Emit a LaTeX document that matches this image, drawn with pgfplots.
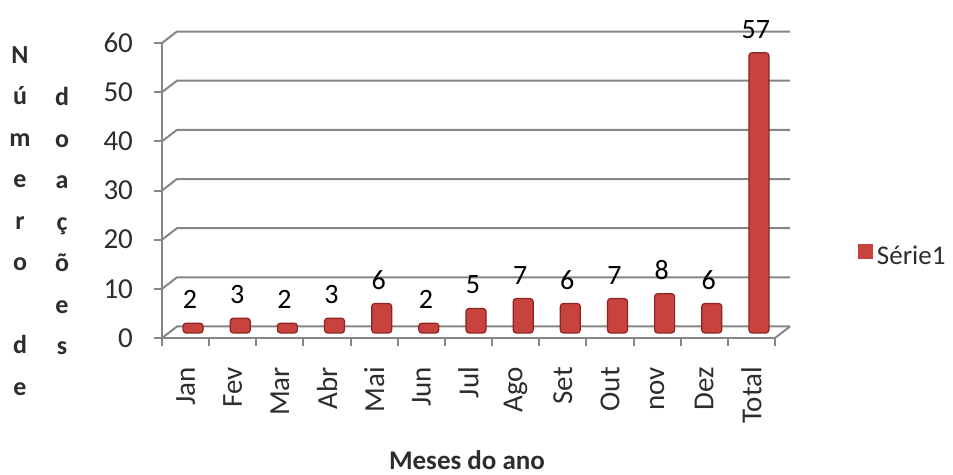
\documentclass[border=0pt]{standalone}
\usepackage{pgfplots}
\pgfplotsset{compat=1.18}
\usepackage{fontspec}
\setmainfont{Carlito}
\definecolor{gridc}{RGB}{134,134,134}
\definecolor{barfill}{RGB}{200,66,62}
\definecolor{baredge}{RGB}{140,36,34}
\definecolor{txt}{RGB}{45,45,45}
\begin{document}
\begin{tikzpicture}
\path[use as bounding box] (0,0) rectangle (476.5pt,-237.5pt);
\begin{axis}[
  at={(81pt,-169pt)}, anchor=south west,
  scale only axis, width=306.5pt, height=147.5pt,
  xmin=-0.5, xmax=12.5, ymin=0, ymax=60,
  axis x line*=bottom, axis y line*=left,
  axis line style={gridc, line width=1pt},
  ytick={0,10,...,60},
  xtick={0,...,12},
  xticklabels={Jan,Fev,Mar,Abr,Mai,Jun,Jul,Ago,Set,Out,nov,Dez,Total},
  minor xtick={-0.5,0.5,...,12.5},
  major x tick style={draw=none},
  minor x tick style={gridc, line width=1pt},
  ytick style={gridc, line width=1pt},
  tick align=outside,
  major tick length=4pt, minor tick length=4pt,
  tick label style={font=\fontsize{14.5}{16}\selectfont, text=txt},
  x tick label style={rotate=90, anchor=east},
  xticklabel shift=7pt,
  yticklabel shift=7pt,
  /pgf/number format/assume math mode=true,
  ybar, bar width=10pt,
  nodes near coords,
  nodes near coords style={font=\fontsize{14}{15}\selectfont, text=black, anchor=south, yshift=3.5pt, xshift=-1.5pt},
  legend style={at={(axis description cs:1.135,0.275)}, anchor=west, draw=none, fill=none, font=\fontsize{13.5}{15}\selectfont, text=txt, inner sep=0pt},
  clip=false,
]
\pgfplotsinvokeforeach{0,10,20,30,40,50,60}{
  \draw[gridc, line width=1pt] (axis cs:-0.5,#1) -- ++(7.5pt,5.75pt) -- ([xshift=7.5pt,yshift=5.75pt]axis cs:12.5,#1);
}
\draw[gridc, line width=1pt] (axis cs:12.5,0) -- ++(7.5pt,5.75pt);
\addplot[ybar, fill=barfill, draw=baredge, line width=0.6pt, rounded corners=1.5pt, xshift=3.75pt, yshift=2.5pt,
  legend image code/.code={\fill[barfill, sharp corners, draw=none] (0pt,-3.7pt) rectangle (7.4pt,3.7pt);}]
  coordinates {(0,2) (1,3) (2,2) (3,3) (4,6) (5,2) (6,5) (7,7) (8,6) (9,7) (10,8) (11,6) (12,57)};
\legend{Série1}
\end{axis}
\node[font=\fontsize{13}{20.75}\selectfont\bfseries, text=txt, align=center] at (10pt,-110.5pt) {N\\ú\\m\\e\\r\\o\\\mbox{}\\d\\e};
\node[font=\fontsize{13}{20.75}\selectfont\bfseries, text=txt, align=center] at (31pt,-110.5pt) {d\\o\\a\\ç\\õ\\e\\s};
\node[font=\fontsize{13.5}{15}\selectfont\bfseries, text=txt] at (233.5pt,-230pt) {Meses do ano};
\end{tikzpicture}
\end{document}
